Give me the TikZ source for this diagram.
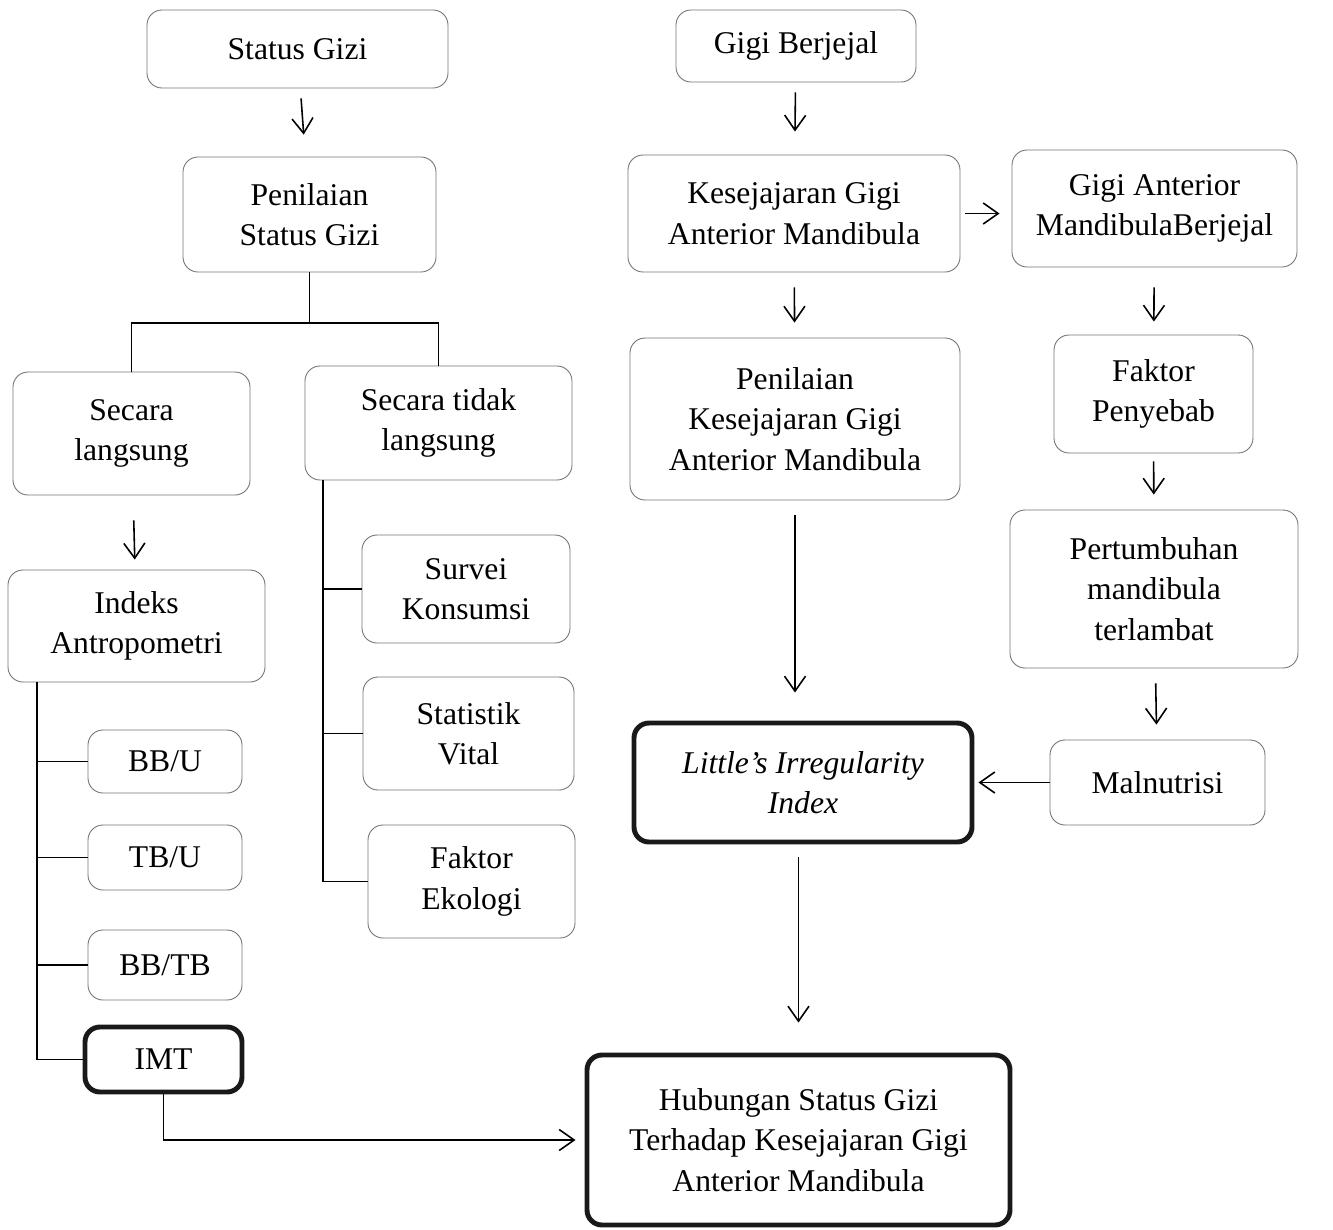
\documentclass[tikz,border=0pt]{standalone}
\usepackage{fontspec}
\setmainfont{Liberation Serif}
\usepackage{tikz}
\usetikzlibrary{positioning, arrows.meta}

\begin{document}
\begin{tikzpicture}[
    box/.style={draw=black!55, line width=0.5pt, rectangle, rounded corners=0.3cm, align=center, inner sep=2pt, font=\fontsize{18}{23}\selectfont},
    thickbox/.style={box, draw=black!90, line width=2.8pt},
    arrow/.style={line width=0.9pt, -{Straight Barb[length=0.3cm, width=0.42cm]}, shorten <=0.3cm, shorten >=0.3cm},
    branch/.style={line width=0.9pt}
]
\useasboundingbox (0,0) rectangle (26.66,-24.58);

% kiri: status gizi
\node[box, minimum width=6.02cm, minimum height=1.56cm] (stgizi) at (5.95,-0.98) {Status Gizi};
\node[box, minimum width=5.06cm, minimum height=2.3cm] (penilaian) at (6.19,-4.29) {Penilaian\\Status Gizi};
\node[box, minimum width=4.74cm, minimum height=2.46cm] (langsung) at (2.63,-8.67) {Secara\\langsung};
\node[box, minimum width=5.34cm, minimum height=2.28cm] (tidak) at (8.77,-8.46) {Secara tidak\\langsung};
\node[box, minimum width=5.14cm, minimum height=2.24cm] (indeks) at (2.73,-12.52) {Indeks\\Antropometri};
\node[box, minimum width=3.08cm, minimum height=1.26cm] (bbu) at (3.3,-15.23) {BB/U};
\node[box, minimum width=3.08cm, minimum height=1.3cm] (tbu) at (3.3,-17.15) {TB/U};
\node[box, minimum width=3.08cm, minimum height=1.4cm] (bbtb) at (3.3,-19.3) {BB/TB};
\node[thickbox, minimum width=3.14cm, minimum height=1.3cm] (imt) at (3.27,-21.19) {IMT};
\node[box, minimum width=4.16cm, minimum height=2.16cm] (survei) at (9.32,-11.78) {Survei\\Konsumsi};
\node[box, minimum width=4.22cm, minimum height=2.26cm] (statistik) at (9.37,-14.67) {Statistik\\Vital};
\node[box, minimum width=4.14cm, minimum height=2.26cm] (ekologi) at (9.43,-17.63) {Faktor\\Ekologi};

% kanan: gigi berjejal
\node[box, minimum width=4.8cm, minimum height=1.44cm] (gigib) at (15.92,-0.92) {Gigi Berjejal};
\node[box, minimum width=6.64cm, minimum height=2.34cm] (kesej) at (15.88,-4.27) {Kesejajaran Gigi\\Anterior Mandibula};
\node[box, minimum width=5.7cm, minimum height=2.34cm] (anterior) at (23.09,-4.17) {Gigi Anterior\\MandibulaBerjejal};
\node[box, minimum width=6.6cm, minimum height=3.24cm] (pkesej) at (15.9,-8.38) {Penilaian\\Kesejajaran Gigi\\Anterior Mandibula};
\node[box, minimum width=3.98cm, minimum height=2.36cm] (faktor) at (23.07,-7.88) {Faktor\\Penyebab};
\node[box, minimum width=5.76cm, minimum height=3.16cm] (tumbuh) at (23.08,-11.78) {Pertumbuhan\\mandibula\\terlambat};
\node[box, minimum width=4.3cm, minimum height=1.7cm] (malnutrisi) at (23.15,-15.65) {Malnutrisi};
\node[thickbox, minimum width=6.76cm, minimum height=2.38cm] (little) at (16.06,-15.65) {\textit{Little's Irregularity}\\\textit{Index}};
\node[thickbox, minimum width=8.46cm, minimum height=3.4cm] (hubungan) at (15.97,-22.8) {Hubungan Status Gizi\\Terhadap Kesejajaran Gigi\\Anterior Mandibula};

\coordinate (split) at (6.19,-6.46);
\coordinate (itrunk) at (0.74,-13.64);
\coordinate (ttrunk) at (6.46,-9.6);

\draw [arrow, shorten <=0.2cm, shorten >=0.44cm] (stgizi) -- (penilaian);
\draw [branch] (penilaian.south) -- (split);
\draw [branch] (langsung.north) |- (split) -| (tidak.north);
\draw [arrow, shorten <=0.5cm, shorten >=0.2cm] (langsung) -- (indeks);
\draw [branch] (itrunk) |- (imt.west);
\foreach \n in {bbu, tbu, bbtb}
    \draw [branch] (itrunk |- \n.west) -- (\n.west);
\draw [branch] (ttrunk) |- (ekologi.west);
\foreach \n in {survei, statistik}
    \draw [branch] (ttrunk |- \n.west) -- (\n.west);
\draw [arrow, shorten <=0cm, shorten >=0.18cm] (imt.south) |- (hubungan.west);

\draw [arrow, shorten <=0.2cm, shorten >=0.46cm] (gigib) -- (kesej);
\draw [arrow, shorten <=0.1cm, shorten >=0.24cm] (kesej.east) -- (kesej.east -| anterior.west);
\draw [arrow] (kesej) -- (pkesej);
\draw [arrow, shorten <=0.4cm, shorten >=0.26cm] (anterior) -- (faktor);
\draw [arrow, shorten <=0.16cm] (faktor) -- (tumbuh);
\draw [arrow] (tumbuh) -- (malnutrisi);
\draw [arrow, shorten <=0cm, shorten >=0.08cm] (malnutrisi) -- (little);
\draw [arrow, shorten <=0.3cm, shorten >=0.56cm] (pkesej.south) -- (pkesej.south |- little.north);
\draw [arrow, shorten <=0.26cm, shorten >=0.6cm] (little.south -| hubungan.north) -- (hubungan.north);
\end{tikzpicture}
\end{document}
